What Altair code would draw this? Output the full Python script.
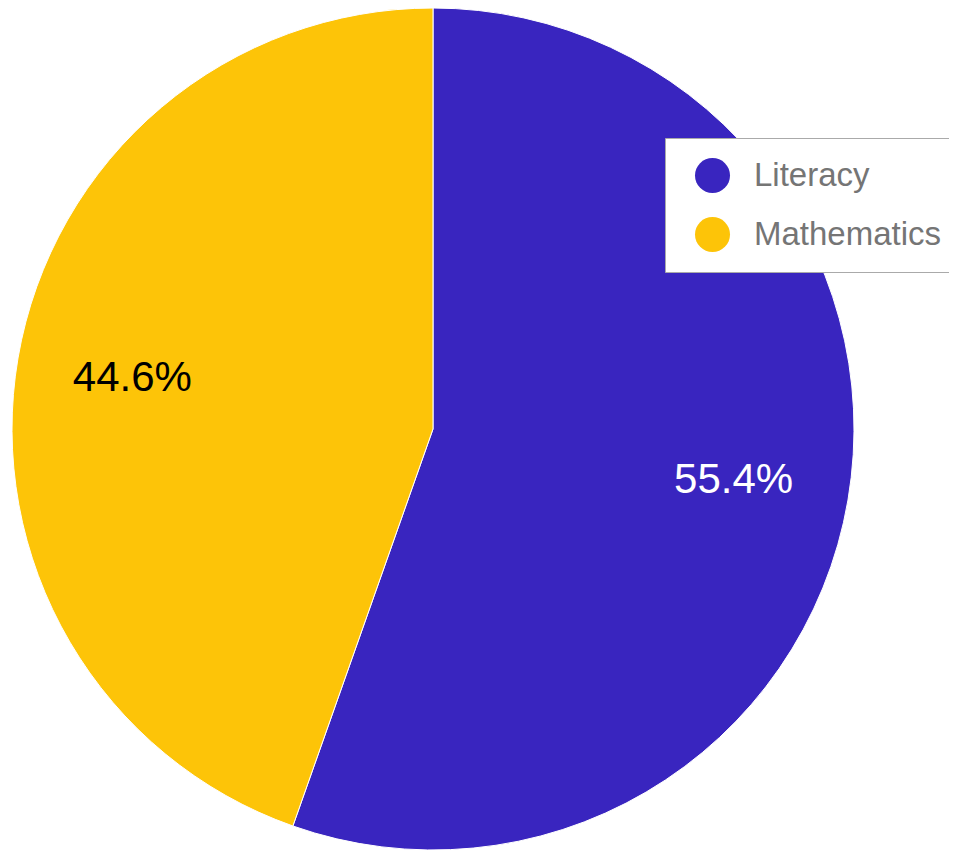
import altair as alt
import pandas as pd

categories = ["Literacy", "Mathematics"]
shares = [55.4, 44.6]
labels = ["55.4%", "44.6%"]
slice_order = [1, 2]
colors = ["#3925BF", "#FDC408"]

df = pd.DataFrame({
    "category": categories,
    "value": shares,
    "label": labels,
    "ord": slice_order,
})

FONT = "Liberation Sans"

base = alt.Chart(df).encode(
    theta=alt.Theta("value:Q", stack=True),
    order=alt.Order("ord:Q"),
)

arcs = base.mark_arc(radius=421, stroke="white", strokeWidth=1).encode(
    color=alt.Color(
        "category:N",
        scale=alt.Scale(domain=categories, range=colors),
        legend=alt.Legend(
            title=None,
            orient="none",
            legendX=652,
            legendY=125,
            symbolType="circle",
            symbolSize=1225,
            symbolStrokeWidth=0,
            symbolOffset=10,
            labelFont=FONT,
            labelFontSize=33,
            labelColor="#757575",
            labelOffset=24,
            rowPadding=24,
            padding=20,
            strokeColor="#aaaaaa",
            fillColor="white",
            labelLimit=400,
        ),
    )
)

text = base.mark_text(radius=305, font=FONT, fontSize=42).encode(
    text="label:N",
    fill=alt.condition(alt.datum.category == "Literacy", alt.value("white"), alt.value("black")),
)

chart = (
    (arcs + text)
    .properties(
        width=840,
        height=832,
        autosize=alt.AutoSizeParams(type="none"),
        padding={"left": 5, "top": 5, "right": 96, "bottom": 5},
    )
    .configure_view(stroke=None)
)

chart.save("out.html", embed_options={"renderer": "svg", "actions": False})
